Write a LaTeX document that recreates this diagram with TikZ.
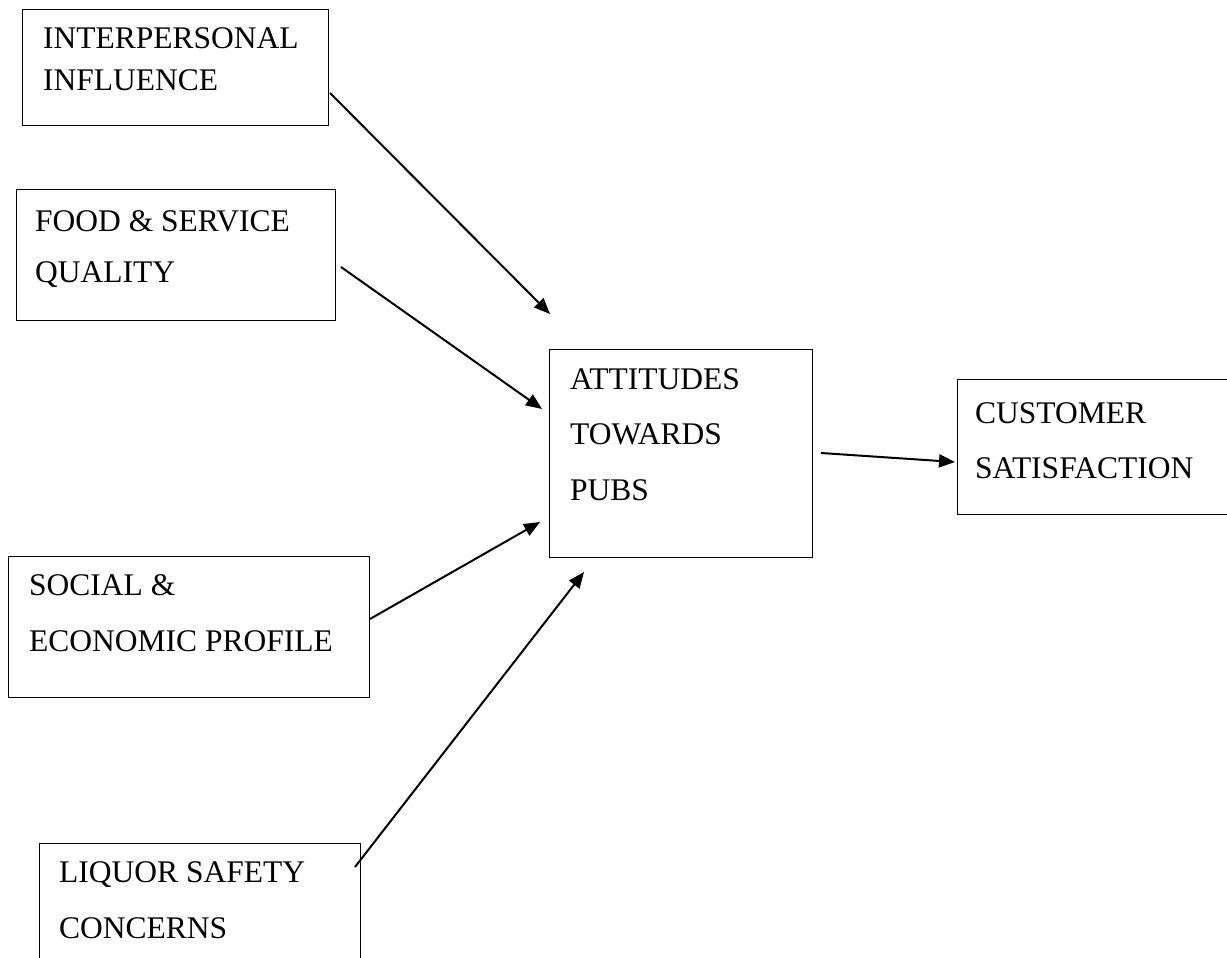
\documentclass[tikz,border=0pt]{standalone}
\usepackage{fontspec}
\setmainfont{Liberation Serif}
\usetikzlibrary{arrows.meta}

\tikzset{
  box/.style={draw, line width=1pt, anchor=north west, inner sep=0pt},
  label/.style={anchor=base west, inner sep=0pt, align=left, font=\fontsize{31.5}{55}\selectfont},
  link/.style={line width=2pt, -{Triangle[length=16pt,width=13pt]}}
}

\begin{document}
\begin{tikzpicture}[x=1pt,y=1pt,yscale=-1,xscale=1]
\useasboundingbox (0,0) rectangle (1227,958);

%Shape: Boxes
\node [box, minimum width=306pt, minimum height=116pt] (inter) at (22,9) {};
\node [box, minimum width=319pt, minimum height=131pt] (food) at (16,189) {};
\node [box, minimum width=263pt, minimum height=208pt] (att) at (549,349) {};
\node [box, minimum width=290pt, minimum height=135pt] (cust) at (957,379) {};
\node [box, minimum width=361pt, minimum height=141pt] (soc) at (8,556) {};
\node [box, minimum width=321pt, minimum height=130pt] (liq) at (39,843) {};

% Text Node (placed at the baseline of its last line)
\node [label, font=\fontsize{31.5}{43}\selectfont] (interT) at (43,91) {INTERPERSONAL\\INFLUENCE};
% Text Node
\node [label, font=\fontsize{31.5}{51}\selectfont] (foodT) at (35,282) {FOOD \& SERVICE\\QUALITY};
% Text Node
\node [label, font=\fontsize{31.5}{55.5}\selectfont] (attT) at (570,500) {ATTITUDES\\TOWARDS\\PUBS};
% Text Node
\node [label] (custT) at (975,478) {CUSTOMER\\SATISFACTION};
% Text Node
\node [label, font=\fontsize{31.5}{56}\selectfont] (socT) at (29,651) {SOCIAL \&\\ECONOMIC PROFILE};
% Text Node
\node [label, font=\fontsize{31.5}{56}\selectfont] (liqT) at (59,938) {LIQUOR SAFETY\\CONCERNS};

%Straight Lines: arrow ends
\coordinate (interOut) at (330,93);
\coordinate (interIn) at (550,314);
\coordinate (foodOut) at (341,267);
\coordinate (foodIn) at (542,409);
\coordinate (socOut) at (370,619);
\coordinate (socIn) at (540,522);
\coordinate (liqOut) at (355,867);
\coordinate (liqIn) at (584,572);
\coordinate (attOut) at (821,453);
\coordinate (custIn) at (955,462);

%Straight Lines
\draw [link] (interOut) -- (interIn);
\draw [link] (foodOut) -- (foodIn);
\draw [link] (socOut) -- (socIn);
\draw [link] (liqOut) -- (liqIn);
\draw [link] (attOut) -- (custIn);

\end{tikzpicture}
\end{document}
